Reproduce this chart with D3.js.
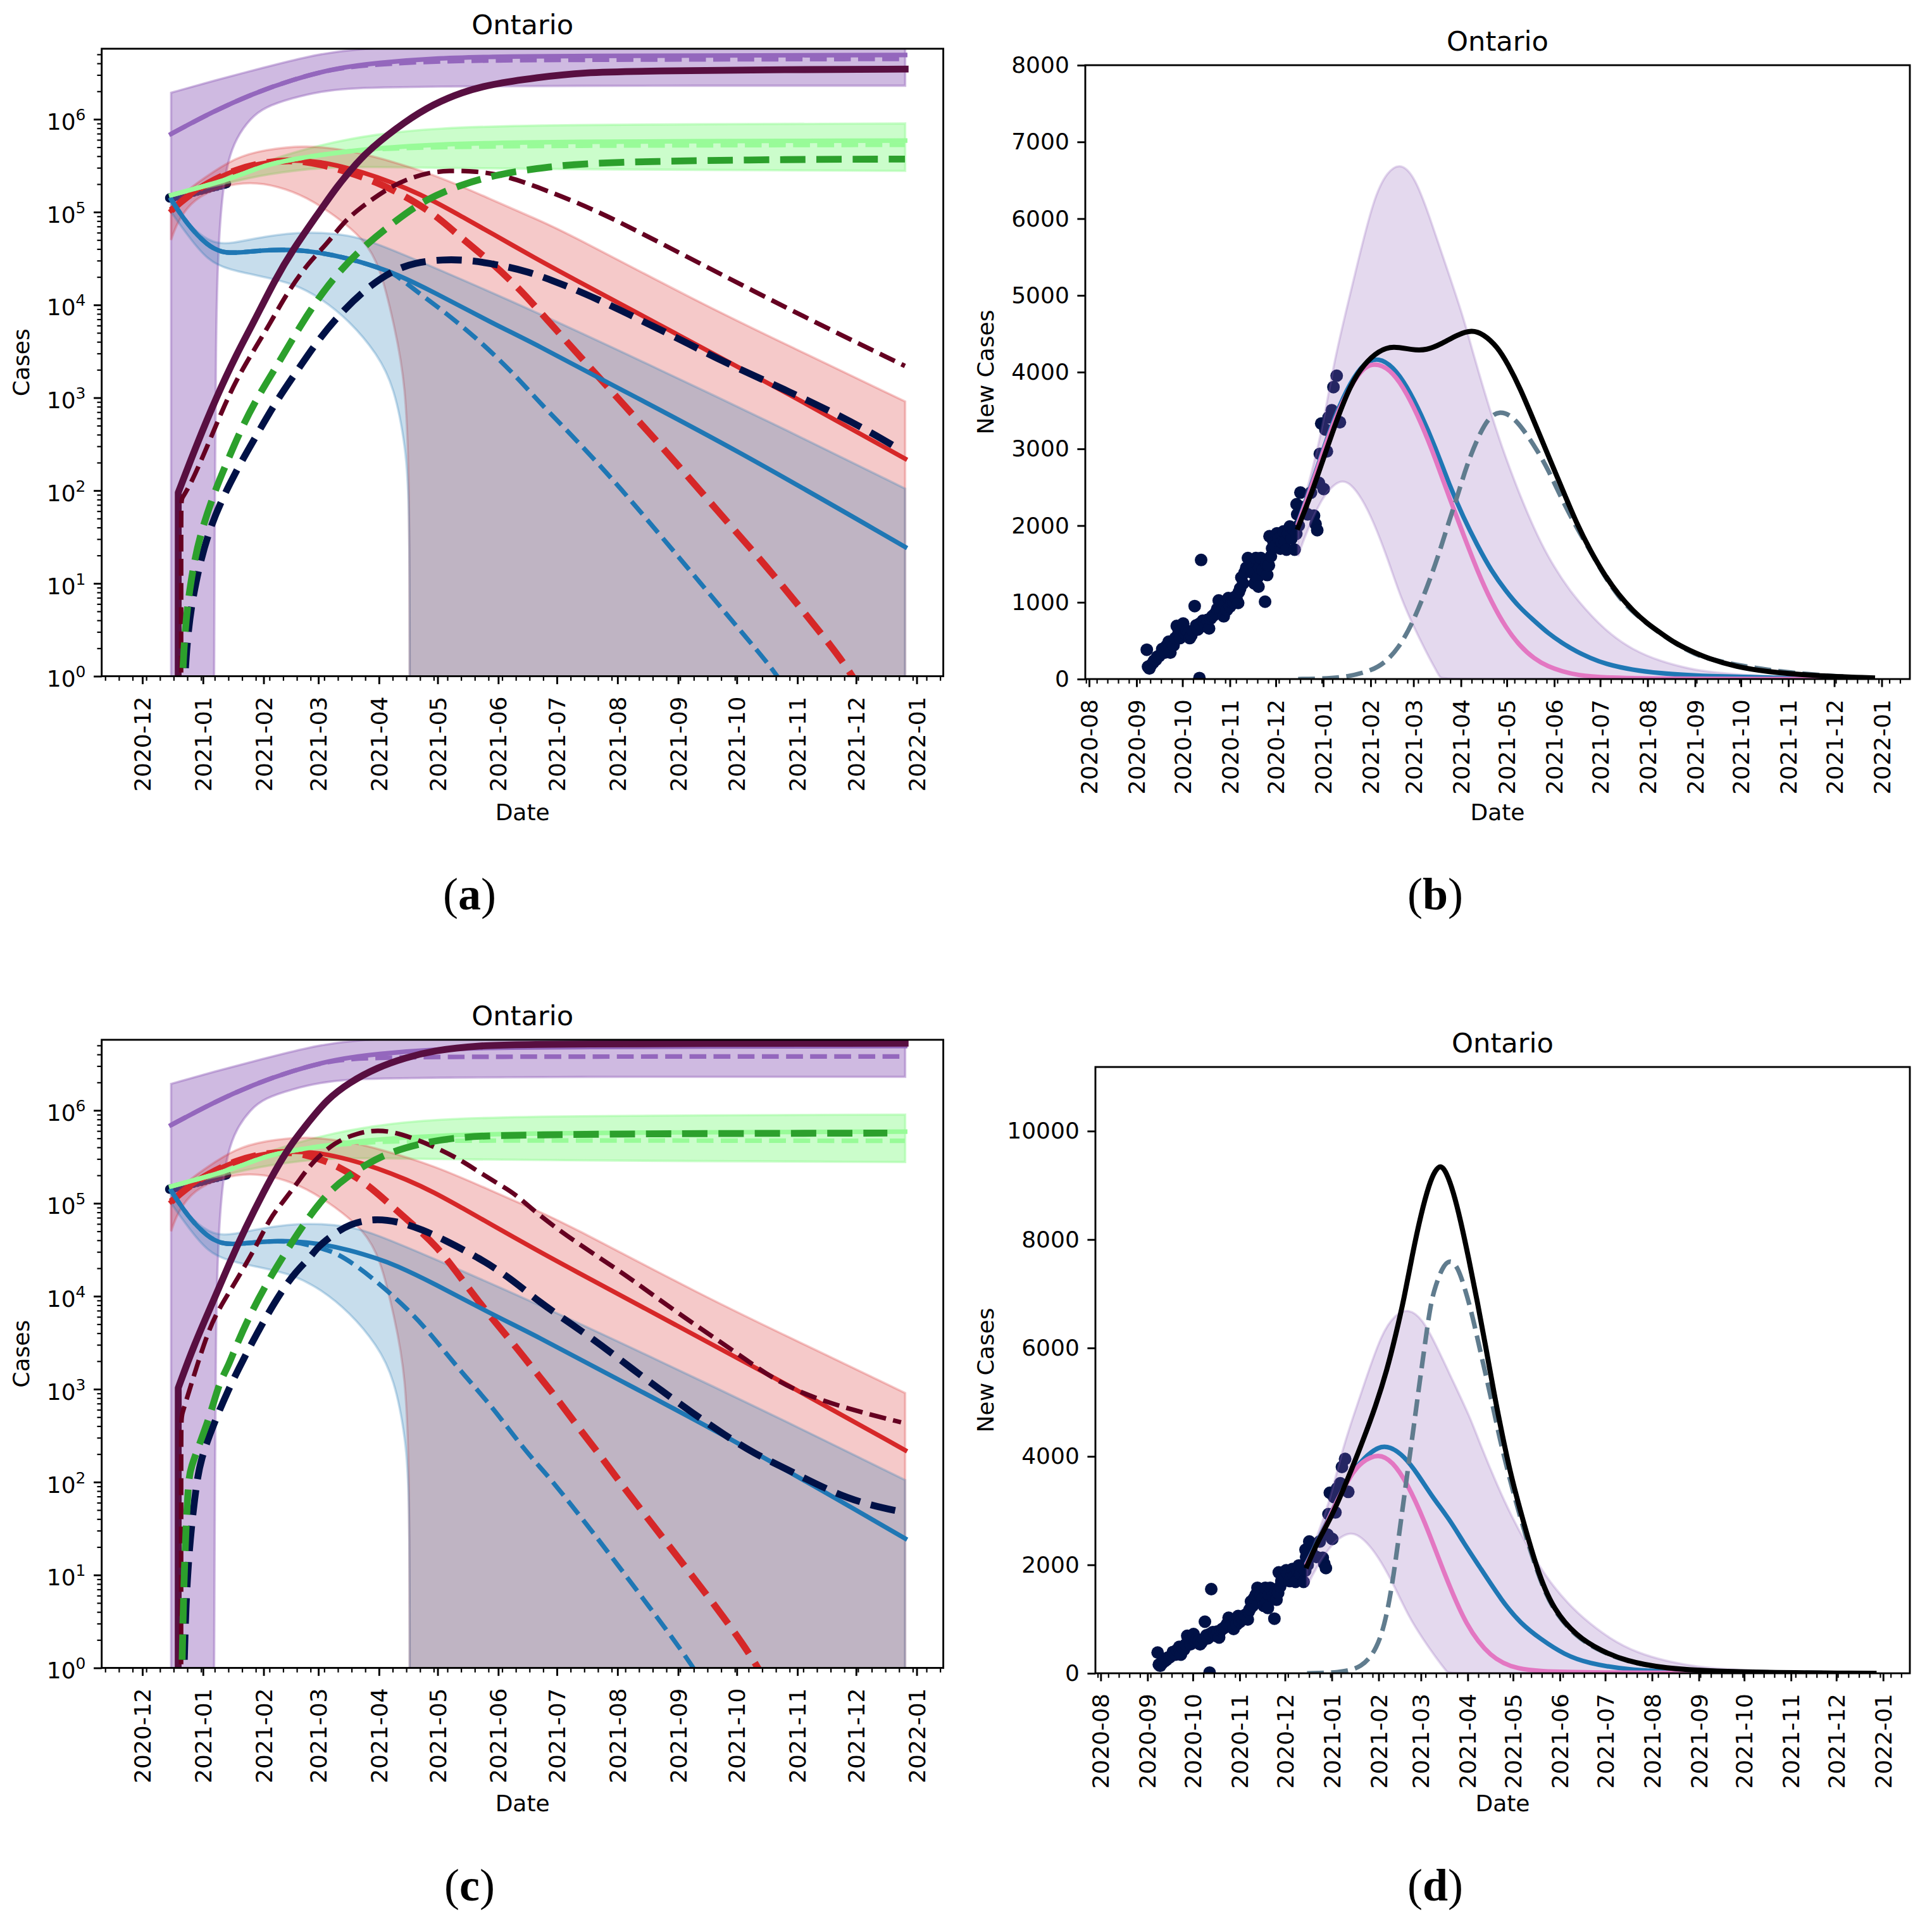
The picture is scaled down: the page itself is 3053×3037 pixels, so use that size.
<!DOCTYPE html>
<html><head><meta charset="utf-8">
<script src="https://cdn.jsdelivr.net/npm/d3@7"></script>
<style>html,body{margin:0;background:#fff}svg{display:block}text{font-family:"DejaVu Sans";fill:#000}</style>
</head><body><div id="c"></div>
<script>
// All series are [days since 2021-01-01, value]
const title = "Ontario";
const monthsLong = ["2020-08","2020-09","2020-10","2020-11","2020-12","2021-01","2021-02","2021-03","2021-04","2021-05","2021-06","2021-07","2021-08","2021-09","2021-10","2021-11","2021-12","2022-01"];
const monthsShort = monthsLong.slice(4);

// Cumulative panels: shared uncertainty bands
const purpleBandTop = [[-16.3,1.93e6],[5.4,2.6e6],[31,3.6e6],[54,4.8e6],[77,5.75e6],[118,6.3e6],[359.1,6.5e6]];
const purpleBandLow = [[-16.3,.1],[5.5,.1],[5.7,1],[6.1,1e2],[6.6,4.5e3],[7.6,3.4e4],[9.7,1.5e5],[12.6,3.5e5],[17,6.3e5],[24.2,1.02e6],[31.4,1.35e6],[45.9,1.7e6],[60.3,2e6],[74.8,2.15e6],[89.2,2.2e6],[118,2.25e6],[171,2.3e6],[359.1,2.3e6]];
const greenBandTop = [[-16.3,1.52e5],[17,2.66e5],[31.4,3.5e5],[60.3,5.37e5],[89,6.95e5],[118,8e5],[171,8.75e5],[359.1,9e5]];
const greenBandLow = [[-16.3,1.5e5],[17,2.16e5],[31.4,2.54e5],[60.3,3.06e5],[89,3.06e5],[118,3e5],[171,2.9e5],[359.1,2.78e5]];
const redBandTop = [[-16.3,1e5],[-12,1.5e5],[2.5,2.5e5],[17,3.9e5],[31.4,4.7e5],[53,5.3e5],[75,4.6e5],[89,3.9e5],[118,2.57e5],[147,1.38e5],[171,8.3e4],[184,6.3e4],[256,1e4],[300,3.6e3],[359.1,9.1e2],[359.1,9.1e2],[359.1,9.1e2]];
const redBandLow = [[-16.3,5e4],[-13,8e4],[-4.7,1.4e5],[9.7,1.9e5],[24,2.12e5],[38.6,1.9e5],[53,1.45e5],[67.5,9.2e4],[82,5.2e4],[90.7,2.6e4],[97.9,5.9e3],[103.7,1.45e3],[105.6,1.1e2],[105.7,1],[105.7,1],[105.7,1],[105.7,.1],[359.1,.1]];
const blueBandTop = [[-16.3,1.27e5],[-4.7,6.3e4],[5.4,4.6e4],[14,4.54e4],[31.4,5.5e4],[53,6.2e4],[75,5.7e4],[89,4.6e4],[118,2.55e4],[171,8.3e3],[233,2.04e3],[299.6,437],[359.1,1.05e2],[359.1,1.05e2],[359.1,1.05e2]];
const blueBandLow = [[-16.3,1e5],[-7.6,5.5e4],[2.5,3e4],[12.6,2.4e4],[31.4,2e4],[46,1.7e4],[60,1.2e4],[75,6.7e3],[89,3e3],[97.9,1.3e3],[103.7,2.9e2],[105.6,80],[105.7,1],[105.7,1],[105.7,1],[105.7,.1],[359.1,.1]];

// Cumulative panels: shared solid series
const purpleSolid = [[-16.3,6.95e5],[5.4,1.22e6],[25.6,1.89e6],[45.9,2.68e6],[67.5,3.55e6],[89.2,4.07e6],[118,4.54e6],[147,4.7e6],[171,4.8e6],[359.1,4.93e6]];
const paleSolid = [[-16.3,1.52e5],[2.5,1.95e5],[17,2.4e5],[31.4,3.2e5],[45.9,3.7e5],[60.3,4.14e5],[82,4.76e5],[118,5.37e5],[171,5.75e5],[359.1,5.9e5]];
const redSolid = [[-16.3,1.04e5],[-9,1.42e5],[2.5,2.08e5],[17,2.9e5],[31.4,3.45e5],[46,3.65e5],[60,3.5e5],[75,2.96e5],[89,2.4e5],[104,1.81e5],[118,1.32e5],[132.6,8.9e4],[147,6e4],[171,3.1e4],[184,2.2e4],[241.8,4.9e3],[299.6,1.1e3],[359.1,2.2e2]];
const blueSolid = [[-16.3,1.37e5],[-8,7.3e4],[2.5,4.3e4],[9.7,3.67e4],[17,3.62e4],[31.4,3.9e4],[46,3.95e4],[60,3.67e4],[75,3.15e4],[89,2.55e4],[97.9,2.19e4],[118,1.38e4],[147,6.5e3],[171,3.7e3],[204.3,1.55e3],[271,290],[359.1,24.7]];

// Panel (a) scenario series
const aPurpleDash = purpleSolid.slice(0,5).concat([[89,3.9e6],[118,4.23e6],[171,4.37e6],[359,4.47e6]]);
const aPaleDash = paleSolid.slice(0,7).concat([[118,5e5],[171,5.2e5],[359,5.3e5]]);
const aRedDash = redSolid.slice(0,6).concat([[60,3.3e5],[75,2.67e5],[89,2.09e5],[101,1.58e5],[118,9.7e4],[131,5.5e4],[147,2.95e4],[161,1.55e4],[170,9.6e3],[198.5,2.04e3],[236.6,270],[262.6,62],[288.6,15],[313,3.5],[333.4,1],[345,.3]]);
const aBlueDash = blueSolid.slice(0,11).concat([[108,1.46e4],[124,8.3e3],[144,3.7e3],[162,1.55e3],[171.6,910],[192,333],[213,110],[239.4,24],[280,2.3],[294.5,1],[305,.4]]);
const aDarkSolid = [[-12.7,.1],[-12.65,95],[-12.65,95],[-12.65,95],[-3.3,310],[6.9,1.02e3],[17,2.9e3],[25.6,6.3e3],[37.2,1.93e4],[45.9,3.9e4],[57.4,8.7e4],[69,1.95e5],[77.7,3.2e5],[84.9,4.7e5],[103.7,9.6e5],[118,1.46e6],[132.6,1.96e6],[147,2.38e6],[171,2.82e6],[194,3.2e6],[227,3.31e6],[299.6,3.43e6],[359.1,3.47e6]];
const aMaroonDash = [[-11.2,.1],[-11.15,80],[-11.15,80],[-6.2,117],[2.5,310],[9.7,720],[17,1.55e3],[25.6,3.15e3],[34.3,6.3e3],[43,1.35e4],[54.5,2.95e4],[63.2,4.47e4],[71.9,7.8e4],[80.6,1.12e5],[93.6,1.75e5],[103.7,2.24e5],[115.2,2.66e5],[125.4,2.8e5],[139.8,2.76e5],[154,2.48e5],[168.7,1.95e5],[198.5,1.11e5],[227.4,5.5e4],[299.6,8.9e3],[359,2.2e3]];
const aGreenDash = [[-11,.5],[-9.5,3],[-6.5,10],[-2,32],[6.9,110],[11.2,178],[18.4,410],[27,950],[38.6,2.35e3],[48.8,5.5e3],[58.9,1.18e4],[70.4,2.4e4],[83.5,4.5e4],[99.3,8.3e4],[113.8,1.37e5],[132.6,2e5],[151.4,2.57e5],[171,2.95e5],[189.8,3.3e5],[227,3.52e5],[299.6,3.7e5],[359,3.72e5]];
const aNavyDash = [[-10,.5],[-8,3],[-4,10],[3,40],[15.5,145],[27,380],[37,890],[48.8,2.04e3],[58.9,4.2e3],[71.9,8.9e3],[86.3,1.68e4],[97.9,2.38e4],[108,2.84e4],[122.5,3.1e4],[137,3.04e4],[154,2.63e4],[165.8,2.29e4],[178,1.86e4],[195.6,1.32e4],[213,8.9e3],[230,5.9e3],[247.6,3.9e3],[265,2.5e3],[299.6,1.17e3],[332.9,543],[356,280]];

// Panel (c) scenario series
const cPurpleDash = purpleSolid.slice(0,5).concat([[89,3.67e6],[118,3.8e6],[359,3.8e6]]);
const cPaleDash = paleSolid.slice(0,6).concat([[82,4.5e5],[100,4.7e5],[171,4.76e5],[359,4.7e5]]);
const cRedDash = redSolid.slice(0,6).concat([[64.6,2.84e5],[82,1.74e5],[93.6,1.06e5],[105,6.5e4],[119.6,3.5e4],[132.6,1.5e4],[147,6e3],[159.5,2.95e3],[168,1.74e3],[180.4,830],[191,410],[203.5,190],[213,100],[250,10],[286,1],[295,.3]]);
const cBlueDash = blueSolid.slice(0,7).concat([[60,3.3e4],[67.5,2.98e4],[79,2.1e4],[89.2,1.41e4],[97.9,9.8e3],[106.5,6.6e3],[115.2,4.2e3],[124,2.48e3],[132.6,1.5e3],[147,676],[155.6,390],[163.8,234],[171,155],[177.5,110],[200,28],[225,5.6],[251.6,1],[262,.4]]);
const cDarkSolid = [[-12.7,.1],[-12.65,1.03e3],[-12.65,1.03e3],[-12.65,1.03e3],[-4.7,2.95e3],[5.4,9e3],[14,2.4e4],[21.3,5.2e4],[31.4,1.38e5],[38.6,2.6e5],[45.9,4.57e5],[54.5,7.7e5],[63.2,1.3e6],[74.8,2e6],[89.2,2.9e6],[103.7,3.7e6],[118,4.4e6],[139.8,5e6],[171,5.2e6],[359.1,5.29e6]];
const cMaroonDash = [[-11.2,.1],[-11.15,500],[-11.15,500],[-6.2,1.1e3],[2.5,4.2e3],[8.3,7.4e3],[15.5,1.3e4],[21.3,2.1e4],[27,3.4e4],[34.3,6.9e4],[40,9.8e4],[48.8,1.71e5],[56,2.8e5],[67.5,4.57e5],[79,5.7e5],[89.2,6.2e5],[100.8,5.7e5],[118,4.1e5],[129.7,3.1e5],[139.8,2.27e5],[151.4,1.6e5],[160,1.25e5],[169.6,8.1e4],[189.8,3.9e4],[212.8,1.9e4],[233,9.3e3],[253,4.7e3],[273.6,2.4e3],[293.8,1.19e3],[314,780],[335.7,570],[357,440]];
const cGreenDash = [[-11,.5],[-9.8,10],[-7.6,105],[-6.1,145],[-1.8,255],[4,550],[8.3,1.17e3],[12.6,1.7e3],[17,2.95e3],[25.6,7.4e3],[34.3,1.58e4],[43,3.16e4],[54.5,7.4e4],[64.7,1.35e5],[73.3,1.9e5],[83.5,2.63e5],[95,3.5e5],[110.9,4.4e5],[128,5.07e5],[147,5.37e5],[171,5.43e5],[212.9,5.6e5],[350,5.7e5]];
const cNavyDash = [[-10,.5],[-8.5,10],[-4,80],[-1.1,180],[5.4,417],[12.6,955],[21.3,2.24e3],[31.4,5.6e3],[40,1.12e4],[47.3,1.82e4],[54.5,2.57e4],[58.9,3.43e4],[66,4.5e4],[74.8,6e4],[87.8,6.9e4],[100.8,6.3e4],[112.3,5.2e4],[123.9,4e4],[141,2.6e4],[157,1.58e4],[172.4,8.5e3],[188,5.1e3],[204,2.95e3],[218.7,1.7e3],[234.6,960],[250.6,550],[266.4,325],[282.3,200],[299.6,135],[330,63],[359,47]];

// Observed cumulative points (panels a, c)
const casePoints = [[-17,1.42e5],[-15,1.45e5],[-13,1.49e5],[-11,1.52e5],[-9,1.56e5],[-7,1.6e5],[-5,1.64e5],[-3,1.68e5],[-1,1.72e5],[1,1.76e5],[3,1.81e5],[5,1.86e5],[7,1.9e5],[9,1.95e5],[11,2e5],[12,2.03e5]];

// New-case observed points (panels b, d)
const dailyPoints = [[-115.3,382],[-114.5,160],[-113.6,139],[-112.4,186],[-111,218],[-110.5,240],[-109.4,250],[-108.5,290],[-107.3,297],[-106,330],[-105.2,392],[-103.5,344],[-102.5,430],[-101,487],[-100.5,410],[-99.9,344],[-98.8,470],[-97.8,439],[-96.7,534],[-95.7,692],[-94.6,600],[-93.6,534],[-92.5,640],[-91.5,724],[-90.4,597],[-89.3,629],[-88.2,600],[-87.2,534],[-86.2,570],[-85.1,629],[-84,951],[-83,700],[-82,645],[-81,720],[-80.9,13],[-79.8,1552],[-78.7,760],[-77.7,740],[-76.7,690],[-75.7,771],[-74.6,660],[-73.5,790],[-72.5,818],[-71.4,834],[-70.4,860],[-69.3,913],[-68.3,1024],[-67,880],[-66,900],[-65,818],[-64,976],[-63,900],[-62,1055],[-60.9,945],[-59.8,1000],[-58.8,1008],[-57.7,1071],[-56.6,1040],[-55.6,992],[-55.1,1134],[-54.3,1180],[-53.5,1324],[-52.4,1245],[-51.4,1387],[-50.3,1450],[-49.2,1577],[-48.2,1480],[-47.1,1435],[-46,1380],[-45,1245],[-44,1577],[-43,1320],[-42.3,1204],[-41.9,1450],[-40.8,1577],[-39.5,1419],[-38,1008],[-37.3,1500],[-36.6,1356],[-35.5,1482],[-35.1,1861],[-34.2,1600],[-33.4,1703],[-32.4,1780],[-31.3,1735],[-30.2,1900],[-29.2,1830],[-28,1700],[-27,1782],[-26,1924],[-25,1790],[-24,1687],[-22.9,1893],[-21.8,1988],[-20.8,1830],[-19.7,1960],[-18.7,1687],[-17.6,1893],[-17.4,2278],[-17,2146],[-16,2000],[-14.9,2430],[-13.4,2240],[-10.2,2146],[-8,2430],[-6,2130],[-5,2020],[-3.9,1940],[-2.8,2556],[0.3,2477],[-2.2,2935],[2.4,2967],[-1.3,3330],[1.4,3252],[3.5,3410],[5.6,3504],[10.9,3346],[6.7,3805],[8.8,3953]];

// New-case uncertainty band (panels b, d)
const newBandTop = [[-16.4,2000],[-14.5,2180],[-8,2658],[-0.7,3247],[6.7,4094],[14,4720],[21,5300],[33,6280],[42,6620],[50.8,6730],[60,6540],[69.3,6040],[80,5400],[91.6,4720],[98,4240],[110,3432],[119.3,2880],[128.5,2400],[137.8,1959],[147,1590],[156.3,1296],[165.5,1038],[184,633],[202.4,376],[221,228],[239,136],[252,88],[300,20],[359,3]];
const newBandLow = [[-16.4,1600],[-15.5,1664],[-10,1959],[-0.7,2364],[6.7,2530],[12.2,2590],[17.8,2548],[25,2364],[32.5,2069],[41.8,1590],[51,1038],[60.3,633],[69.5,265],[77,0],[77,0],[359,0]];

// Panel (b)
const bTotal = [[-16.4,1977],[-8,2400],[-0.7,2824],[8.5,3358],[17.8,3837],[27,4113],[36.2,4278],[45.5,4345],[58.4,4286],[67.7,4286],[76.9,4363],[88,4492],[97.2,4550],[104.5,4499],[113.8,4334],[121,4094],[128.5,3800],[137.8,3358],[147,2916],[156.3,2474],[165.5,2032],[174.8,1664],[184,1351],[193.2,1094],[202.4,891],[211.6,725],[220.9,596],[230,468],[239.3,376],[251.9,265],[270,160],[290,95],[320,45],[359,15]];
const bBlue = [[-16.4,2050],[-8,2510],[-0.7,2950],[8.5,3470],[17.8,3870],[27,4130],[36.2,4190],[45.5,4075],[54.7,3818],[64,3450],[73.2,3026],[82.4,2530],[91.6,2106],[100.8,1738],[110,1406],[119.3,1149],[128.5,928],[137.8,762],[147,596],[156.3,468],[165.5,357],[174.8,273],[184,199],[202,118],[221,74],[239,52],[252,37],[300,12],[359,2]];
const bPink = [[-16.4,2030],[-8,2490],[-0.7,2930],[8.5,3440],[17.8,3818],[27,4090],[36.2,4115],[45.5,4002],[54.7,3726],[64,3340],[73.2,2880],[82.4,2364],[91.6,1885],[100.8,1406],[110,1001],[119.3,670],[128.5,431],[137.8,265],[147,162],[156.3,99],[165.5,52],[184,15],[230,1],[359,0]];
const bDash = [[-16.4,0],[-0.7,4],[16,26],[32.5,118],[40,210],[49,394],[58.4,725],[67.7,1186],[75,1590],[82.4,2069],[88,2400],[93.5,2769],[100.8,3137],[108,3413],[115.6,3495],[123,3432],[130.4,3266],[139.6,2990],[147,2732],[156.3,2327],[165.5,1977],[174.8,1664],[184,1333],[193,1075],[202,872],[221,578],[239,357],[252,250],[300,75],[359,10]];

// Panel (d)
const dTotal = [[-16.4,1980],[-9,2455],[-0.8,2848],[10.4,3567],[20.7,4296],[29,4921],[36.6,5599],[42.2,6224],[47.8,6901],[53.4,7735],[59,8464],[64.6,9037],[68.4,9272],[72.1,9380],[75.8,9246],[80.5,8881],[85.2,8360],[90.8,7630],[96.4,6849],[102,6015],[107.6,5130],[113.2,4348],[118.8,3619],[126.3,2848],[136,1900],[146,1205],[162,680],[178.6,409],[195,227],[219,91],[260,20],[359,0]];
const dBlue = [[-16.4,2050],[-8,2510],[-0.7,2950],[8.5,3450],[12.2,3671],[21.6,3984],[31,4185],[38.4,4185],[47.8,4010],[57,3671],[66.5,3254],[77.7,2848],[87,2420],[97,2000],[113,1318],[125,920],[138,636],[154,341],[170,182],[195,68],[227,15],[359,0]];
const dPink = [[-16.4,2030],[-8,2490],[-0.7,2930],[2.9,3150],[12.2,3645],[19.7,3905],[31,4060],[40.3,3905],[49.7,3515],[60.9,2848],[75,1800],[89,864],[105,295],[121.5,68],[150,5],[359,0]];
const dDash = [[-16.4,0],[5,10],[20,100],[30,450],[36,1000],[41,1800],[45.9,2848],[52.5,4192],[55.3,4765],[58,5338],[60.9,5911],[63.7,6484],[66.5,6953],[70.2,7266],[74,7526],[78.6,7630],[83.3,7500],[88,7110],[92.7,6640],[97.3,6068],[102,5494],[106.7,4921],[111.4,4296],[117,3671],[124.5,2890],[136,1850],[146,1170],[162,660],[178.6,395],[195,220],[219,88],[260,18],[359,0]];

const C = {purple:"#9467bd",pale:"#98fb98",red:"#d62728",blue:"#1f77b4",green:"#2ca02c",dark:"#580f41",maroon:"#650021",navy:"#001146",pink:"#e377c2",grey:"#607c8e",black:"#000"};

const svg = d3.select("#c").append("svg").attr("width",3053).attr("height",3037).style("background","#fff");
const day = d => new Date(Date.UTC(2021,0,1) + d*864e5);
const monthDate = s => new Date(s + "-01T00:00:00Z");
const thin = 7.2, thick = 10.8;
let clipN = 0;

function frame(cfg){
  const g = svg.append("g");
  const x = d3.scaleUtc().domain([day(cfg.d0),day(cfg.d1)]).range([cfg.l,cfg.r]);
  const y = cfg.log ? d3.scaleLog().domain([1,cfg.ymax]).range([cfg.b,cfg.t]) : d3.scaleLinear().domain([0,cfg.ymax]).range([cfg.b,cfg.t]);
  const id = "clip"+(clipN++);
  g.append("clipPath").attr("id",id).append("rect").attr("x",cfg.l).attr("y",cfg.t).attr("width",cfg.r-cfg.l).attr("height",cfg.b-cfg.t);
  const plot = g.append("g").attr("clip-path",`url(#${id})`);
  const line = d3.line().x(p=>x(day(p[0]))).y(p=>y(Math.max(p[1],cfg.log?.01:0))).curve(d3.curveBasis);
  const api = {
    dots(pts,r,col){ plot.append("g").selectAll("circle").data(pts).join("circle").attr("cx",p=>x(day(p[0]))).attr("cy",p=>y(p[1])).attr("r",r).attr("fill",col); },
    band(top,low,col,a){
      const d = line(top) + "L" + line(low.slice().reverse()).slice(1) + "Z";
      plot.append("path").attr("d",d).attr("fill",col).attr("fill-opacity",a).attr("stroke",col).attr("stroke-opacity",a).attr("stroke-width",3.6);
    },
    line(pts,col,w,dash){
      plot.append("path").attr("d",line(pts)).attr("fill","none").attr("stroke",col).attr("stroke-width",w)
        .attr("stroke-linecap",dash?"butt":"square").attr("stroke-linejoin","round")
        .attr("stroke-dasharray",dash?`${3.7*w} ${1.6*w}`:null);
    }
  };
  // axes
  const majors = cfg.months.map(monthDate);
  const minors = d3.utcThursday.range(x.domain()[0],x.domain()[1]);
  const ax = g.append("g").attr("transform",`translate(0,${cfg.b})`);
  ax.call(d3.axisBottom(x).tickValues(minors).tickSize(7.2).tickFormat("").tickSizeOuter(0));
  ax.selectAll(".tick line").attr("stroke-width",2.2);
  ax.select(".domain").remove();
  const ax2 = g.append("g").attr("transform",`translate(0,${cfg.b})`);
  ax2.call(d3.axisBottom(x).tickValues(majors).tickSize(12.6).tickFormat(d3.utcFormat("%Y-%m")).tickSizeOuter(0));
  ax2.selectAll(".tick line").attr("stroke-width",2.9);
  ax2.select(".domain").remove();
  ax2.selectAll(".tick text").attr("transform","rotate(-90)").attr("x",-cfg.lpad).attr("y",0).attr("dy","0.35em")
     .attr("text-anchor","end").style("font-size","36px").style("font-family","DejaVu Sans");
  const ay = g.append("g").attr("transform",`translate(${cfg.l},0)`);
  if(cfg.log){
    const decades = d3.range(0,7);
    const mins = [];
    decades.forEach(e=>d3.range(2,10).forEach(m=>{const v=m*Math.pow(10,e); if(v<cfg.ymax) mins.push(v);}));
    ay.call(d3.axisLeft(y).tickValues(mins).tickSize(7.2).tickFormat("").tickSizeOuter(0));
    ay.selectAll(".tick line").attr("stroke-width",2.2); ay.select(".domain").remove();
    const ay2 = g.append("g").attr("transform",`translate(${cfg.l},0)`);
    ay2.call(d3.axisLeft(y).tickValues(decades.map(e=>Math.pow(10,e))).tickSize(12.6).tickPadding(12.6).tickFormat("").tickSizeOuter(0));
    ay2.selectAll(".tick line").attr("stroke-width",2.9); ay2.select(".domain").remove();
    ay2.selectAll(".tick text").each(function(v){
      const t=d3.select(this).style("font-size","36px").style("font-family","DejaVu Sans").attr("dy","0.45em");
      t.append("tspan").text("10");
      t.append("tspan").attr("dy","-15").style("font-size","25px").text(Math.round(Math.log10(v)));
    });
  } else {
    ay.call(d3.axisLeft(y).tickValues(cfg.yticks).tickSize(12.6).tickPadding(12.6).tickFormat(d3.format("d")).tickSizeOuter(0));
    ay.selectAll(".tick line").attr("stroke-width",2.9); ay.select(".domain").remove();
    ay.selectAll(".tick text").style("font-size","36px").style("font-family","DejaVu Sans");
  }
  api.finish = ()=>{
    g.append("rect").attr("x",cfg.l).attr("y",cfg.t).attr("width",cfg.r-cfg.l).attr("height",cfg.b-cfg.t).attr("fill","none").attr("stroke","#000").attr("stroke-width",2.9);
    g.append("text").attr("x",(cfg.l+cfg.r)/2).attr("y",cfg.t-23).attr("text-anchor","middle").style("font-size","43.2px").text(title);
    g.append("text").attr("x",(cfg.l+cfg.r)/2).attr("y",cfg.xlabelY).attr("text-anchor","middle").style("font-size","36px").text("Date");
    g.append("text").attr("transform",`translate(${cfg.ylabelX},${(cfg.t+cfg.b)/2}) rotate(-90)`).attr("text-anchor","middle").style("font-size","36px").text(cfg.ylabel);
    const cap = g.append("text").attr("x",cfg.capX).attr("y",cfg.capY).attr("text-anchor","middle").style("font-family","Liberation Serif").style("font-size","72px");
    cap.append("tspan").text("(");
    cap.append("tspan").style("font-weight","700").text(cfg.cap);
    cap.append("tspan").text(")");
  };
  return api;
}

function casePanel(cfg,s){
  const p = frame(Object.assign({log:true,ymax:5.75e6,l:160.7,r:1490.6,d0:-51.8,d1:378.6,months:monthsShort,lpad:32,ylabel:"Cases",ylabelX:46,capX:742},cfg));
  p.dots(casePoints,7.5,C.navy);
  p.band(purpleBandTop,purpleBandLow,C.purple,.45);
  p.band(greenBandTop,greenBandLow,C.pale,.5);
  p.band(redBandTop,redBandLow,C.red,.25);
  p.band(blueBandTop,blueBandLow,C.blue,.25);
  p.line(s.redDash,C.red,thick,true);
  p.line(redSolid,C.red,thin);
  p.line(s.purpleDash,C.purple,thin,true);
  p.line(purpleSolid,C.purple,thin);
  p.line(s.blueDash,C.blue,thin,true);
  p.line(blueSolid,C.blue,thin);
  p.line(s.paleDash,C.pale,thin,true);
  p.line(paleSolid,C.pale,thin);
  p.line(s.dark,C.dark,thick);
  p.line(s.maroon,C.maroon,thin,true);
  p.line(s.navy,C.navy,thick,true);
  p.line(s.green,C.green,thick,true);
  p.finish();
}
function newPanel(cfg,s){
  const p = frame(Object.assign({log:false,months:monthsLong,lpad:32,ylabel:"New Cases",ylabelX:1570},cfg));
  p.dots(dailyPoints,10,C.navy);
  p.band(newBandTop,newBandLow,C.purple,.25);
  p.line(s.blue,C.blue,thin);
  p.line(s.pink,C.pink,thin);
  p.line(s.dash,C.grey,thin,true);
  p.line(s.total,C.black,8);
  p.finish();
}

casePanel({t:77,b:1068.5,cap:"a",capY:1437,xlabelY:1296},{redDash:aRedDash,purpleDash:aPurpleDash,blueDash:aBlueDash,paleDash:aPaleDash,dark:aDarkSolid,maroon:aMaroonDash,navy:aNavyDash,green:aGreenDash});
casePanel({t:1643,b:2635.5,cap:"c",capY:3003,xlabelY:2862},{redDash:cRedDash,purpleDash:cPurpleDash,blueDash:cBlueDash,paleDash:cPaleDash,dark:cDarkSolid,maroon:cMaroonDash,navy:cNavyDash,green:cGreenDash});
newPanel({t:103,b:1073,l:1715,r:3018,d0:-155.5,d1:383.4,ymax:8000,yticks:[0,1000,2000,3000,4000,5000,6000,7000,8000],cap:"b",capX:2268,capY:1437,xlabelY:1296},{blue:bBlue,pink:bPink,dash:bDash,total:bTotal});
newPanel({t:1686,b:2644,l:1731,r:3018,d0:-156.5,d1:382.7,ymax:11182,yticks:[0,2000,4000,6000,8000,10000],cap:"d",capX:2268,capY:3003,xlabelY:2862},{blue:dBlue,pink:dPink,dash:dDash,total:dTotal});
</script></body></html>
